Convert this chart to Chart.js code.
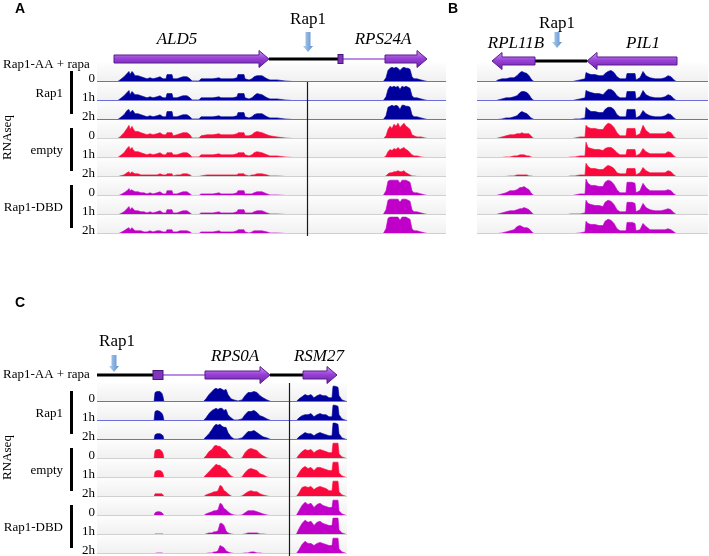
<!DOCTYPE html>
<html lang="en">
<head>
<meta charset="UTF-8">
<title>Rap1 RNAseq coverage</title>
<style>
  body { margin: 0; background: #fff; }
  #page { position: relative; width: 709px; height: 556px; overflow: hidden; }
  #page canvas { position: absolute; }
</style>
</head>
<body>
<div id="page">
  <canvas id="chartA" width="448" height="245" style="left:0;top:0"></canvas>
  <canvas id="chartB" width="269" height="245" style="left:440px;top:0"></canvas>
  <canvas id="chartC" width="360" height="266" style="left:0;top:290px"></canvas>
</div>

<script src="https://cdn.jsdelivr.net/npm/chart.js"></script>
<script>
  // rows of every panel: 3 strains x 3 time points
  const timeLabels = ['0', '1h', '2h', '0', '1h', '2h', '0', '1h', '2h'];
  const groupLabels = ['Rap1', 'empty', 'Rap1-DBD'];
  const trackColors = ['#00009c', '#00009c', '#00009c',
                       '#fa0a3c', '#fa0a3c', '#fa0a3c',
                       '#c000c8', '#c000c8', '#c000c8'];

  // ---- panel A (x = position in the window, 0..349) ----
  const ald5X = [20,23,27,30,32,33,35,36,38,41,44,47,50,53,56,60,63,66,69,70,75,76,80,83,86,90,93,95,102,104,110,116,122,124,130,136,140,141,147,148,152,155,157,160,165,170,173,180,188,195,198];
  const ald5Cov = [
    [0,2,5,8,10,7,10,9,6,6, 5,4,3,4,3,4,5,3,3,7, 7,3,3,4,5,5,3,1,1,3, 3,3,4,3,3,3,4,7,7,3, 2,3,5,6,6,3,2,2,1,0.5, 0], // Rap1 0
    [0,2,5,8,10,6,9,8,6,6, 5,4,3,4,3,4,5,3,3,7, 7,3,3,4,5,5,3,1,1,3, 3,3,4,3,3,3,4,7,7,3, 2,3,5,7,6,3,2,2,1,0.5, 0], // Rap1 1h
    [0,2,5,9,10,7,9,9,6,6, 5,4,3,4,3,4,5,3,3,8, 8,3,3,4,5,5,3,1,1,3, 3,3,4,3,3,3,4,7,7,3, 2,3,5,6,6,3,2,2,1,0.5, 0], // Rap1 2h
    [0,2,6,10,13,9,12,10,7,7, 6,5,4,5,4,5,6,4,4,6, 6,3,4,5,6,6,4,1,1,3, 4,4,5,4,4,4,5,6,6,3, 3,4,6,7,6,4,3,2,1,0.5, 0], // empty 0
    [0,2,5,9,11,8,10,8,6,6, 5,4,3,4,3,4,5,3,3,5, 5,3,3,4,5,5,3,1,1,3, 3,3,4,3,3,3,4,5,5,3, 2,3,5,6,5,3,2,2,1,0.5, 0], // empty 1h
    [0,1,2,4,5,3,5,4,3,3, 2,2,2,2,2,2,3,2,2,3, 3,1,2,2,3,3,2,0.5,0.5,1, 2,2,2,2,2,2,2,3,3,2, 1,2,2,3,3,2,1,1,0.5,0.3, 0], // empty 2h
    [0,1,3,5,7,5,6,5,4,4, 3,3,2,3,2,3,4,2,2,5, 5,2,2,3,4,4,2,0.5,0.5,2, 2,2,3,2,2,2,3,5,5,2, 2,2,3,4,4,2,1,1,0.5,0.3, 0], // DBD 0
    [0,1,3,6,8,5,7,6,4,4, 3,3,2,3,2,3,4,2,2,5, 5,2,2,3,4,4,2,0.5,0.5,2, 2,2,3,2,2,2,3,5,5,2, 2,2,3,4,4,2,1,1,0.5,0.3, 0], // DBD 1h
    [0,1,3,5,6,4,6,5,3,3, 3,2,2,3,2,3,3,2,2,4, 4,2,2,3,3,3,2,0.5,0.5,2, 2,2,3,2,2,2,3,4,4,2, 1,2,3,3,3,2,1,1,0.5,0.3, 0]  // DBD 2h
  ];
  const rps24aX = [286,289,291,293,295,297,299,301,303,305,307,309,311,313,315,317,320,324,328,333];
  const rps24aCov = [
    [0,4,11,13,14,13,14,13,11,13,14,13,13,12,5,3,3,2,1,0],
    [0,4,11,14,13,14,13,14,11,14,13,14,13,12,5,3,3,2,1,0],
    [0,4,12,13,14,13,14,13,10,14,14,13,13,12,5,3,3,2,1,0],
    [0,3,9,12,10,14,12,15,11,13,15,12,11,9,4,3,2,2,1,0],
    [0,2,6,8,7,9,8,10,8,9,10,8,7,5,3,2,2,1,0.5,0],
    [0,1,3,4,4,5,5,6,5,5,6,4,3,2,1,1,0.5,0.5,0,0],
    [0,5,14,15,15,15,15,15,12,15,15,15,14,13,5,3,3,2,1,0],
    [0,5,14,15,15,15,15,15,12,15,15,15,14,13,5,3,3,2,1,0],
    [0,5,15,16,16,16,16,16,13,16,16,16,15,14,5,3,3,2,1,0]
  ];
  // [name, start, end, strand, label position]
  const genesA = [['ALD5', 17, 172, 1, 80], ['RPS24A', 288, 330, 1, 286]];
  const intergenicA = [[172, 241]];
  const intronsA = [[246, 288]];
  const smallExonsA = [[241, 246]];
  const rap1SiteA = 211;
  const boundaryA = 210;

  // ---- panel B (0..231) ----
  const rpl11bX = [18,21,25,29,33,37,40,43,45,47,50,52,54,56,58];
  const rpl11bCov = [
    [0,2,3,3,4,4,6,9,10,9,8,6,3,1,0],
    [0,1,2,3,3,4,5,8,9,9,8,6,3,1,0],
    [0,0.5,1,2,2,3,4,7,8,7,6,4,2,1,0],
    [0,1,2,3,4,4,5,5,6,5,5,5,3,1,0],
    [0,0,0.5,1,1,2,2,3,3,3,2,2,1,0.5,0],
    [0,0,0.5,0.5,1,1,2,2,2,2,2,1,1,0.5,0],
    [0,1,2,3,5,5,6,8,8,9,7,6,3,1,0],
    [0,1,2,3,4,4,5,6,6,7,6,5,3,1,0],
    [0,0.5,1,2,3,4,7,8,7,6,6,5,3,1,0]
  ];
  const pil1X = [88,94,98,103,108,109,111,114,118,122,126,128,131,134,137,140,143,147,149,150,155,158,159,163,166,169,173,178,184,188,191,194,197,200];
  const pil1Cov = [
    [0,0,1,2,3,9,8,7,7,6, 6,8,10,11,9,5,3,3,3,8, 8,8,2,4,10,6,4,3,3,4, 6,5,2,0],
    [0,0,1,2,3,10,9,8,7,7, 6,8,11,11,9,5,3,3,3,9, 9,9,2,4,10,6,4,3,3,4, 6,5,2,0],
    [0,0,1,1,2,12,10,8,8,7, 7,10,12,12,10,5,3,3,3,10, 10,10,2,4,9,6,4,3,3,4, 6,5,2,0],
    [0,0,1,2,2,13,11,10,10,9, 9,12,15,14,11,6,3,3,3,10, 10,10,3,5,13,8,5,5,5,5, 7,6,2,0],
    [0,1,1,2,2,15,10,9,8,8, 7,9,10,10,8,5,3,3,3,8, 8,8,2,4,9,6,4,4,4,4, 6,5,2,0],
    [0,1,1,2,2,13,10,8,8,7, 7,9,11,10,8,4,3,3,3,8, 8,8,2,4,9,6,4,4,4,4, 6,5,2,0],
    [0,0,1,2,2,16,12,10,10,9, 9,13,15,14,11,6,3,3,3,13, 13,12,3,5,12,8,5,5,5,5, 6,5,2,0],
    [0,1,1,1,2,14,11,10,9,9, 8,12,14,13,10,5,3,3,3,12, 12,11,3,5,11,7,5,4,4,5, 6,5,2,0],
    [0,0,0.5,1,2,12,10,9,9,8, 8,12,14,13,10,5,3,3,3,11, 11,10,3,4,10,7,4,4,4,4, 5,4,2,0]
  ];
  const genesB = [['RPL11B', 15, 58, -1, 39], ['PIL1', 110, 200, -1, 166]];
  const intergenicB = [[58, 110]];
  const rap1SiteB = 80;

  // ---- panel C (0..250) ----
  const exon1X = [57,58,60,63,65,66,67];
  const exon1Cov = [
    [0,9,10,10,8,5,0], [0,9,10,9,7,5,0], [0,5,6,6,5,4,0],
    [0,8,9,9,7,5,0], [0,6,7,7,6,4,0], [0,3,3,3,3,2,0],
    [0,3,4,4,3,2,0], [0,1,1,1,1,1,0], [0,0.5,1,1,1,0.5,0]
  ];
  const rps0aX = [106,109,112,115,117,119,121,123,125,127,129,131,134,137,141,145,148,151,154,157,160,163,166,170,175];
  const rps0aCov = [
    [0,3,7,10,12,13,12,13,12,11, 12,7,3,2,1,2,6,9,9,10, 9,6,4,2,0],
    [0,3,7,10,11,12,11,12,12,10, 11,6,3,1,1,2,6,9,9,10, 8,5,4,2,0],
    [0,3,6,10,13,15,14,15,13,12, 12,7,3,1,1,2,5,8,8,9, 7,5,3,2,0],
    [0,3,7,9,12,13,12,12,10,9, 8,5,2,0.5,0,1,6,9,10,9, 8,5,3,1,0],
    [0,3,6,9,11,13,12,12,10,9, 8,5,2,0.5,0,1,5,8,9,8, 7,4,3,1,0],
    [0,2,3,4,5,5,6,11,10,6, 5,3,1,0,0,1,3,5,6,5, 5,3,2,1,0],
    [0,2,3,4,5,5,6,12,11,7, 6,4,2,1,0.5,1,3,5,5,5, 4,3,2,1,0],
    [0,1,2,2,3,3,4,11,11,9, 4,2,1,0.5,0,0.5,1,2,2,2, 2,1,1,0.5,0],
    [0,0.5,1,1,2,2,3,8,7,6, 3,2,1,0.5,0,0.5,1,1,2,2, 1,1,0.5,0.5,0]
  ];
  const rsm27X = [199,202,205,208,211,214,217,220,223,226,229,232,235,236,238,241,242,245,248,250];
  const rsm27Cov = [
    [0,3,5,7,6,7,4,6,7,6,6,4,4,15,15,14,6,2,1,0],
    [0,3,5,6,6,7,4,6,7,6,6,4,4,15,15,14,6,2,1,0],
    [0,3,5,7,6,6,4,6,7,6,5,4,4,16,16,15,6,2,1,0],
    [0,4,7,9,8,9,6,8,9,8,7,6,6,15,15,15,5,2,1,0],
    [0,5,9,11,9,10,7,10,10,9,8,7,7,15,15,15,5,2,1,0],
    [0,4,9,10,9,10,7,9,10,9,8,6,6,15,15,15,5,2,1,0],
    [0,5,10,13,11,12,8,11,12,10,9,8,8,15,15,15,5,2,1,0],
    [0,6,11,14,12,13,9,12,13,11,10,9,9,16,16,16,5,2,1,0],
    [0,4,9,12,10,10,8,10,11,10,9,8,8,15,15,15,5,2,1,0]
  ];
  const genesC = [['RPS0A', 108, 173, 1, 138], ['RSM27', 206, 240, 1, 222]];
  const intergenicC = [[0, 56], [173, 206]];
  const intronsC = [[66, 108]];
  const smallExonsC = [[56, 66]];
  const rap1SiteC = 17;
  const boundaryC = 192;

  const SERIF = '"Liberation Serif", "Times New Roman", serif';

  function trackPoints(segments, k, xMax) {
    const pts = [{x: 0, y: 0}];
    segments.forEach(([xs, cov]) => xs.forEach((x, i) => pts.push({x: x, y: cov[k][i]})));
    pts.push({x: xMax, y: 0});
    return pts;
  }

  function geneArrow(ctx, x1, x2, y, strand) {
    const hb = 4, hh = 8.5, hl = 10;
    ctx.beginPath();
    if (strand > 0) {
      ctx.moveTo(x1, y - hb); ctx.lineTo(x2 - hl, y - hb); ctx.lineTo(x2 - hl, y - hh);
      ctx.lineTo(x2, y); ctx.lineTo(x2 - hl, y + hh); ctx.lineTo(x2 - hl, y + hb); ctx.lineTo(x1, y + hb);
    } else {
      ctx.moveTo(x2, y - hb); ctx.lineTo(x1 + hl, y - hb); ctx.lineTo(x1 + hl, y - hh);
      ctx.lineTo(x1, y); ctx.lineTo(x1 + hl, y + hh); ctx.lineTo(x1 + hl, y + hb); ctx.lineTo(x2, y + hb);
    }
    ctx.closePath();
    const gr = ctx.createLinearGradient(0, y - hh, 0, y + hh);
    gr.addColorStop(0, '#c99cf0');
    gr.addColorStop(0.45, '#9a42d8');
    gr.addColorStop(1, '#6c22a6');
    ctx.fillStyle = gr;
    ctx.fill();
    ctx.strokeStyle = '#5b1b8e';
    ctx.lineWidth = 1;
    ctx.stroke();
  }

  function siteArrow(ctx, x, y0, y1) {
    const gr = ctx.createLinearGradient(x - 5, 0, x + 5, 0);
    gr.addColorStop(0, '#b4d0f0');
    gr.addColorStop(1, '#5a8ecf');
    ctx.fillStyle = gr;
    ctx.beginPath();
    ctx.moveTo(x - 2.5, y0); ctx.lineTo(x + 2.5, y0); ctx.lineTo(x + 2.5, y1 - 6);
    ctx.lineTo(x + 5, y1 - 6); ctx.lineTo(x, y1); ctx.lineTo(x - 5, y1 - 6); ctx.lineTo(x - 2.5, y1 - 6);
    ctx.closePath();
    ctx.fill();
  }

  function decor(p) {
    return {
      id: 'decor',
      beforeDatasetsDraw(chart) {
        const {ctx, chartArea: a, scales} = chart;
        ctx.save();
        for (let k = 0; k < 9; k++) {
          const s = scales['y' + k];
          const gr = ctx.createLinearGradient(0, s.top, 0, s.bottom);
          gr.addColorStop(0, '#fdfdfd');
          gr.addColorStop(1, '#f0f0f0');
          ctx.fillStyle = gr;
          ctx.fillRect(a.left, s.top, a.right - a.left, s.bottom - s.top);
        }
        ctx.restore();
      },
      afterDatasetsDraw(chart) {
        const {ctx, chartArea: a, scales} = chart;
        const px = v => scales.x.getPixelForValue(v);
        const gy = scales.g.getPixelForValue(p.geneLevel);
        const seg = (x1, y1, x2, y2) => { ctx.beginPath(); ctx.moveTo(x1, y1); ctx.lineTo(x2, y2); ctx.stroke(); };
        ctx.save();

        // track baselines
        ctx.lineWidth = 1;
        for (let k = 0; k < 9; k++) {
          const s = scales['y' + k];
          ctx.strokeStyle = k < 3 ? '#6c6cdc' : '#d0d0d0';
          seg(a.left, s.bottom - 0.5, a.right, s.bottom - 0.5);
        }

        // boundary line
        if (p.boundary != null) {
          const bx = Math.round(px(p.boundary)) + 0.5;
          ctx.strokeStyle = '#1a1a1a';
          ctx.lineWidth = 1.2;
          seg(bx, p.boundaryFromTop ? scales.y0.top : scales.y0.bottom, bx, a.bottom + 2);
        }

        // gene model
        ctx.strokeStyle = '#000';
        ctx.lineWidth = 3;
        p.intergenic.forEach(([s, e]) => seg(px(s), gy, px(e), gy));
        ctx.strokeStyle = '#a466dc';
        ctx.lineWidth = 1.6;
        p.introns.forEach(([s, e]) => seg(px(s), gy, px(e), gy));
        p.smallExons.forEach(([s, e]) => {
          ctx.fillStyle = '#7f36ba';
          ctx.fillRect(px(s), gy - 4.5, px(e) - px(s), 9);
          ctx.strokeStyle = '#4a1678';
          ctx.lineWidth = 1;
          ctx.strokeRect(px(s), gy - 4.5, px(e) - px(s), 9);
        });
        ctx.textAlign = 'center';
        ctx.textBaseline = 'middle';
        p.genes.forEach(([name, s, e, strand, lx]) => {
          geneArrow(ctx, px(s), px(e), gy, strand);
          ctx.fillStyle = '#000';
          ctx.font = 'italic 17px ' + SERIF;
          ctx.fillText(name, px(lx), gy + p.nameDy);
        });

        // Rap1 binding site
        const sx = px(p.site);
        siteArrow(ctx, sx, gy + p.arrowDy[0], gy + p.arrowDy[1]);
        ctx.fillStyle = '#000';
        ctx.font = '17px ' + SERIF;
        ctx.fillText('Rap1', sx + p.siteLabelDx, gy + p.siteLabelDy);

        // panel letter
        ctx.font = 'bold 14px "Liberation Sans", Arial, sans-serif';
        ctx.textAlign = 'left';
        ctx.textBaseline = 'alphabetic';
        ctx.fillText(p.letter, p.letterPos[0], p.letterPos[1]);

        if (p.leftLabels) {
          ctx.font = '13px ' + SERIF;
          ctx.fillText('Rap1-AA + rapa', 3, gy + p.strainDy);
          ctx.textAlign = 'right';
          for (let k = 0; k < 9; k++) {
            ctx.fillText(timeLabels[k], a.left - 2, scales['y' + k].bottom - 0.5);
          }
          ctx.textBaseline = 'middle';
          groupLabels.forEach((lab, gi) => {
            const top = scales['y' + (3 * gi)].top, bot = scales['y' + (3 * gi + 2)].bottom;
            ctx.fillRect(a.left - 27, top + 8, 3, bot - top - 14);
            ctx.fillText(lab, a.left - 34, (top + bot) / 2 + 2);
          });
          ctx.save();
          ctx.translate(8, (scales.y0.top + scales.y8.bottom) / 2 - 11);
          ctx.rotate(-Math.PI / 2);
          ctx.textAlign = 'center';
          ctx.fillText('RNAseq', 0, 0);
          ctx.restore();
        }
        ctx.restore();
      }
    };
  }

  function drawPanel(p) {
    const datasets = trackColors.map((c, k) => ({
      data: trackPoints(p.segments, k, p.xMax),
      yAxisID: 'y' + k,
      borderColor: c,
      backgroundColor: c,
      borderWidth: 0.6,
      fill: 'origin',
      pointRadius: 0,
      tension: 0
    }));
    const scales = {
      x: {type: 'linear', min: 0, max: p.xMax, display: false},
      g: {type: 'linear', min: 0, max: 1, display: false, position: 'right', stack: 'tracks', stackWeight: 17}
    };
    for (let k = 0; k < 9; k++) {
      scales['y' + k] = {type: 'linear', min: 0, max: 18, display: false,
                         position: 'right', stack: 'tracks', stackWeight: 19};
    }
    return new Chart(document.getElementById(p.canvas), {
      type: 'line',
      data: {datasets: datasets},
      options: {
        responsive: false,
        animation: false,
        events: [],
        layout: {padding: p.padding},
        plugins: {legend: {display: false}, tooltip: {enabled: false}},
        scales: scales
      },
      plugins: [decor(p)]
    });
  }

  drawPanel({
    canvas: 'chartA', xMax: 349, letter: 'A', letterPos: [15, 13],
    padding: {left: 97, right: 2, top: 46, bottom: 11},
    segments: [[ald5X, ald5Cov], [rps24aX, rps24aCov]],
    genes: genesA, intergenic: intergenicA, introns: intronsA, smallExons: smallExonsA,
    site: rap1SiteA, boundary: boundaryA, boundaryFromTop: false,
    geneLevel: 0.235, nameDy: -19, arrowDy: [-27, -7], siteLabelDx: 0, siteLabelDy: -39,
    leftLabels: true, strainDy: 9
  });

  drawPanel({
    canvas: 'chartB', xMax: 231, letter: 'B', letterPos: [8, 13],
    padding: {left: 37, right: 1, top: 46, bottom: 11},
    segments: [[rpl11bX, rpl11bCov], [pil1X, pil1Cov]],
    genes: genesB, intergenic: intergenicB, introns: [], smallExons: [],
    site: rap1SiteB, boundary: null,
    geneLevel: 0.118, nameDy: -17, arrowDy: [-29, -13], siteLabelDx: 0, siteLabelDy: -37,
    leftLabels: false
  });

  drawPanel({
    canvas: 'chartC', xMax: 250, letter: 'C', letterPos: [15, 17],
    padding: {left: 97, right: 13, top: 76, bottom: 2},
    segments: [[exon1X, exon1Cov], [rps0aX, rps0aCov], [rsm27X, rsm27Cov]],
    genes: genesC, intergenic: intergenicC, introns: intronsC, smallExons: smallExonsC,
    site: rap1SiteC, boundary: boundaryC, boundaryFromTop: true,
    geneLevel: 0.47, nameDy: -18, arrowDy: [-20, -3], siteLabelDx: 3, siteLabelDy: -33,
    leftLabels: true, strainDy: 3
  });
</script>
</body>
</html>
